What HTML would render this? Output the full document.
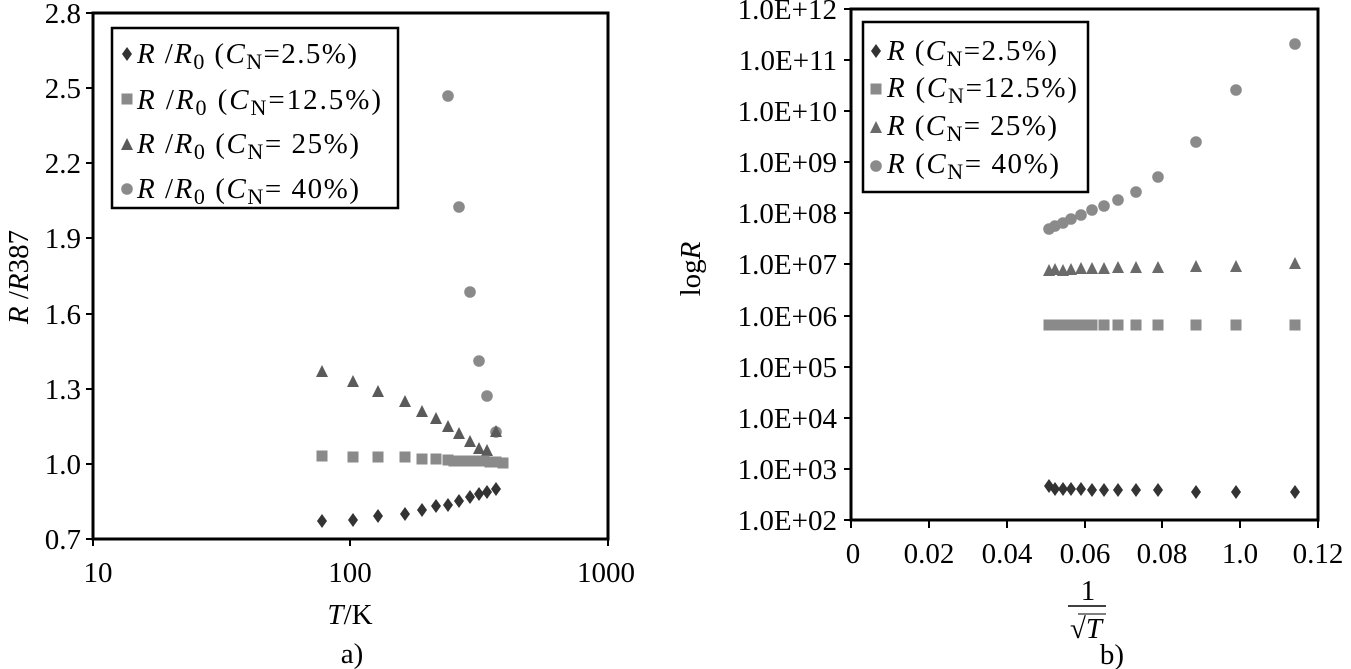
<!DOCTYPE html>
<html><head><meta charset="utf-8"><style>
html,body{margin:0;padding:0;background:#fff;}
svg{display:block;font-family:"Liberation Serif",serif;}
</style></head><body>
<svg width="1351" height="669" viewBox="0 0 1351 669" xmlns="http://www.w3.org/2000/svg">
<defs>
<path id="dm" d="M0,-7 L5,0 L0,7 L-5,0Z"/>
<rect id="sq" x="-5.5" y="-5.5" width="11" height="11"/>
<path id="tr" d="M0,-7 L6,5 L-6,5Z"/>
<circle id="ci" r="5.8"/>
</defs>
<!-- LEFT PLOT -->
<rect x="93" y="13" width="515" height="526" fill="none" stroke="#000" stroke-width="3"/>
<g stroke="#000" stroke-width="2">
<line x1="86" y1="13" x2="93" y2="13"/><line x1="86" y1="88" x2="93" y2="88"/>
<line x1="86" y1="163" x2="93" y2="163"/><line x1="86" y1="238" x2="93" y2="238"/>
<line x1="86" y1="314" x2="93" y2="314"/><line x1="86" y1="389" x2="93" y2="389"/>
<line x1="86" y1="464" x2="93" y2="464"/><line x1="86" y1="539" x2="93" y2="539"/>
<line x1="93" y1="539" x2="93" y2="546"/><line x1="350" y1="539" x2="350" y2="546"/><line x1="608" y1="539" x2="608" y2="546"/>
</g>
<g font-size="29" text-anchor="end" fill="#000">
<text x="81" y="23">2.8</text><text x="81" y="98">2.5</text><text x="81" y="173">2.2</text>
<text x="81" y="248">1.9</text><text x="81" y="324">1.6</text><text x="81" y="399">1.3</text>
<text x="81" y="474">1.0</text><text x="81" y="549">0.7</text>
</g>
<g font-size="29" text-anchor="middle">
<text x="98" y="582">10</text><text x="350" y="582">100</text><text x="606" y="582">1000</text>
<text x="350" y="624"><tspan font-style="italic">T</tspan>/K</text>
<text x="352" y="663">a)</text>
<text transform="translate(28,277) rotate(-90)"><tspan font-style="italic">R</tspan> /<tspan font-style="italic">R</tspan>387</text>
</g>
<!-- left data -->
<g fill="#8a8a8a">
<use href="#ci" x="448" y="96"/><use href="#ci" x="459" y="207"/><use href="#ci" x="470" y="292"/>
<use href="#ci" x="479" y="361"/><use href="#ci" x="487" y="396"/><use href="#ci" x="496" y="432"/>
</g>
<g fill="#5a5a5a">
<use href="#tr" x="322" y="372"/><use href="#tr" x="353" y="382"/><use href="#tr" x="378" y="392"/>
<use href="#tr" x="405" y="402"/><use href="#tr" x="422" y="412"/><use href="#tr" x="436" y="419"/>
<use href="#tr" x="448" y="427"/><use href="#tr" x="459" y="434"/><use href="#tr" x="470" y="442"/>
<use href="#tr" x="479" y="449"/><use href="#tr" x="487" y="451"/><use href="#tr" x="496" y="432"/>
</g>
<g fill="#8a8a8a">
<use href="#sq" x="322" y="456"/><use href="#sq" x="353" y="457"/><use href="#sq" x="378" y="457"/>
<use href="#sq" x="405" y="457"/><use href="#sq" x="422" y="459"/><use href="#sq" x="436" y="459"/>
<use href="#sq" x="448" y="460"/><use href="#sq" x="454" y="461"/><use href="#sq" x="460" y="461"/>
<use href="#sq" x="466" y="461"/><use href="#sq" x="472" y="461"/><use href="#sq" x="478" y="461"/>
<use href="#sq" x="484" y="461"/><use href="#sq" x="490" y="462"/><use href="#sq" x="496" y="462"/><use href="#sq" x="503" y="463"/>
</g>
<g fill="#333">
<use href="#dm" x="322" y="521"/><use href="#dm" x="353" y="520"/><use href="#dm" x="378" y="516"/>
<use href="#dm" x="405" y="514"/><use href="#dm" x="422" y="510"/><use href="#dm" x="436" y="506"/>
<use href="#dm" x="448" y="505"/><use href="#dm" x="459" y="501"/><use href="#dm" x="470" y="497"/>
<use href="#dm" x="479" y="494"/><use href="#dm" x="487" y="492"/><use href="#dm" x="496" y="489"/>
</g>
<!-- left legend -->
<rect x="112" y="28" width="286" height="180" fill="#fff" stroke="#000" stroke-width="2.5"/>
<g font-size="29">
<use href="#dm" x="127" y="54" fill="#333"/>
<use href="#sq" x="127" y="99" fill="#8a8a8a"/>
<use href="#tr" x="127" y="145" fill="#5a5a5a"/>
<use href="#ci" x="127" y="189" fill="#8a8a8a"/>
<text x="137" y="63" textLength="220" lengthAdjust="spacing"><tspan font-style="italic">R</tspan> /<tspan font-style="italic">R</tspan><tspan font-size="22" dy="6">0</tspan><tspan dy="-6"> (</tspan><tspan font-style="italic">C</tspan><tspan font-size="22" dy="6">N</tspan><tspan dy="-6">=2.5%)</tspan></text>
<text x="137" y="109" textLength="244" lengthAdjust="spacing"><tspan font-style="italic">R</tspan> /<tspan font-style="italic">R</tspan><tspan font-size="22" dy="6">0</tspan><tspan dy="-6"> (</tspan><tspan font-style="italic">C</tspan><tspan font-size="22" dy="6">N</tspan><tspan dy="-6">=12.5%)</tspan></text>
<text x="137" y="153" textLength="222" lengthAdjust="spacing"><tspan font-style="italic">R</tspan> /<tspan font-style="italic">R</tspan><tspan font-size="22" dy="6">0</tspan><tspan dy="-6"> (</tspan><tspan font-style="italic">C</tspan><tspan font-size="22" dy="6">N</tspan><tspan dy="-6">= 25%)</tspan></text>
<text x="137" y="198" textLength="222" lengthAdjust="spacing"><tspan font-style="italic">R</tspan> /<tspan font-style="italic">R</tspan><tspan font-size="22" dy="6">0</tspan><tspan dy="-6"> (</tspan><tspan font-style="italic">C</tspan><tspan font-size="22" dy="6">N</tspan><tspan dy="-6">= 40%)</tspan></text>
</g>

<!-- RIGHT PLOT -->
<rect x="851" y="9" width="467" height="511" fill="none" stroke="#000" stroke-width="3"/>
<g stroke="#000" stroke-width="2">
<line x1="844" y1="9" x2="851" y2="9"/><line x1="844" y1="60" x2="851" y2="60"/><line x1="844" y1="111" x2="851" y2="111"/>
<line x1="844" y1="162" x2="851" y2="162"/><line x1="844" y1="213" x2="851" y2="213"/><line x1="844" y1="264" x2="851" y2="264"/>
<line x1="844" y1="316" x2="851" y2="316"/><line x1="844" y1="367" x2="851" y2="367"/><line x1="844" y1="418" x2="851" y2="418"/>
<line x1="844" y1="469" x2="851" y2="469"/><line x1="844" y1="520" x2="851" y2="520"/>
<line x1="851" y1="520" x2="851" y2="528"/><line x1="929" y1="520" x2="929" y2="528"/><line x1="1007" y1="520" x2="1007" y2="528"/>
<line x1="1085" y1="520" x2="1085" y2="528"/><line x1="1162" y1="520" x2="1162" y2="528"/><line x1="1240" y1="520" x2="1240" y2="528"/><line x1="1318" y1="520" x2="1318" y2="528"/>
</g>
<g font-size="29" text-anchor="end">
<text x="837" y="19">1.0E+12</text><text x="837" y="70">1.0E+11</text><text x="837" y="121">1.0E+10</text>
<text x="837" y="172">1.0E+09</text><text x="837" y="223">1.0E+08</text><text x="837" y="274">1.0E+07</text>
<text x="837" y="326">1.0E+06</text><text x="837" y="377">1.0E+05</text><text x="837" y="428">1.0E+04</text>
<text x="837" y="479">1.0E+03</text><text x="837" y="530">1.0E+02</text>
</g>
<g font-size="29" text-anchor="middle">
<text x="853" y="563">0</text><text x="929" y="563">0.02</text><text x="1007" y="563">0.04</text>
<text x="1085" y="563">0.06</text><text x="1162" y="563">0.08</text><text x="1240" y="563">1.0</text><text x="1318" y="563">0.12</text>
<text x="1088" y="600">1</text>
<text x="1086" y="638"><tspan>√</tspan><tspan font-style="italic">T</tspan></text>
<text x="1112" y="664">b)</text>
<text transform="translate(700,269) rotate(-90)">log<tspan font-style="italic">R</tspan></text>
</g>
<line x1="1068" y1="606" x2="1106" y2="606" stroke="#000" stroke-width="1.5"/>
<line x1="1078" y1="614" x2="1106" y2="614" stroke="#000" stroke-width="1"/>
<!-- right data -->
<g fill="#8a8a8a">
<use href="#ci" x="1049" y="229"/><use href="#ci" x="1055" y="226"/><use href="#ci" x="1063" y="223"/>
<use href="#ci" x="1071" y="219"/><use href="#ci" x="1081" y="215"/><use href="#ci" x="1092" y="210"/>
<use href="#ci" x="1104" y="206"/><use href="#ci" x="1118" y="200"/><use href="#ci" x="1136" y="192"/>
<use href="#ci" x="1158" y="177"/><use href="#ci" x="1196" y="142"/><use href="#ci" x="1236" y="90"/><use href="#ci" x="1295" y="44"/>
</g>
<g fill="#6a6a6a">
<use href="#tr" x="1049" y="271"/><use href="#tr" x="1055" y="270"/><use href="#tr" x="1063" y="271"/>
<use href="#tr" x="1071" y="270"/><use href="#tr" x="1081" y="269"/><use href="#tr" x="1092" y="269"/>
<use href="#tr" x="1104" y="269"/><use href="#tr" x="1118" y="268"/><use href="#tr" x="1136" y="268"/>
<use href="#tr" x="1158" y="268"/><use href="#tr" x="1196" y="267"/><use href="#tr" x="1236" y="267"/><use href="#tr" x="1295" y="264"/>
</g>
<g fill="#8a8a8a">
<use href="#sq" x="1049" y="325"/><use href="#sq" x="1055" y="325"/><use href="#sq" x="1063" y="325"/>
<use href="#sq" x="1071" y="325"/><use href="#sq" x="1081" y="325"/><use href="#sq" x="1092" y="325"/>
<use href="#sq" x="1104" y="325"/><use href="#sq" x="1118" y="325"/><use href="#sq" x="1136" y="325"/>
<use href="#sq" x="1158" y="325"/><use href="#sq" x="1196" y="325"/><use href="#sq" x="1236" y="325"/><use href="#sq" x="1295" y="325"/>
</g>
<g fill="#333">
<use href="#dm" x="1049" y="486"/><use href="#dm" x="1055" y="489"/><use href="#dm" x="1063" y="489"/>
<use href="#dm" x="1071" y="489"/><use href="#dm" x="1081" y="489"/><use href="#dm" x="1092" y="490"/>
<use href="#dm" x="1104" y="490"/><use href="#dm" x="1118" y="490"/><use href="#dm" x="1136" y="490"/>
<use href="#dm" x="1158" y="490"/><use href="#dm" x="1196" y="492"/><use href="#dm" x="1236" y="492"/><use href="#dm" x="1295" y="492"/>
</g>
<!-- right legend -->
<rect x="863" y="22" width="225" height="170" fill="#fff" stroke="#000" stroke-width="2.5"/>
<g font-size="29">
<use href="#dm" x="876" y="51" fill="#333"/>
<use href="#sq" x="876" y="89" fill="#8a8a8a"/>
<use href="#tr" x="876" y="128" fill="#6a6a6a"/>
<use href="#ci" x="876" y="166" fill="#8a8a8a"/>
<text x="887" y="60" textLength="170" lengthAdjust="spacing"><tspan font-style="italic">R</tspan> (<tspan font-style="italic">C</tspan><tspan font-size="22" dy="6">N</tspan><tspan dy="-6">=2.5%)</tspan></text>
<text x="887" y="97" textLength="190" lengthAdjust="spacing"><tspan font-style="italic">R</tspan> (<tspan font-style="italic">C</tspan><tspan font-size="22" dy="6">N</tspan><tspan dy="-6">=12.5%)</tspan></text>
<text x="887" y="135" textLength="170" lengthAdjust="spacing"><tspan font-style="italic">R</tspan> (<tspan font-style="italic">C</tspan><tspan font-size="22" dy="6">N</tspan><tspan dy="-6">= 25%)</tspan></text>
<text x="887" y="173" textLength="172" lengthAdjust="spacing"><tspan font-style="italic">R</tspan> (<tspan font-style="italic">C</tspan><tspan font-size="22" dy="6">N</tspan><tspan dy="-6">= 40%)</tspan></text>
</g>
</svg>
</body></html>
